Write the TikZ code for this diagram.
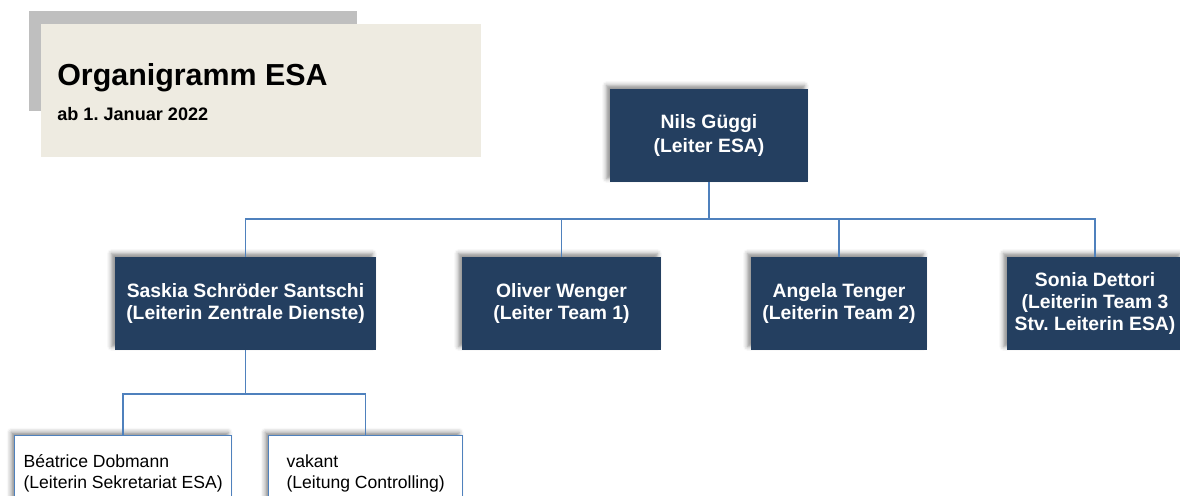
\documentclass[tikz,border=0pt]{standalone}
\usepackage{fontspec}
\setmainfont{Liberation Sans}
\usepackage{tikz}
\usetikzlibrary{shadows.blur}
\frenchspacing

\definecolor{navy}{HTML}{243F60}
\definecolor{lineblue}{HTML}{4F81BD}
\definecolor{titlebg}{HTML}{EEEBE1}
\definecolor{titlegray}{HTML}{BFBFBF}

\tikzset{
    headbox/.style={rectangle, fill=navy, text=white, align=center,
        minimum height=1.86cm, inner sep=2pt,
        font=\bfseries\fontsize{11}{12.5}\selectfont,
        blur shadow={shadow xshift=-2pt, shadow yshift=2pt, shadow blur radius=2.5pt, shadow opacity=45}},
    staffbox/.style={rectangle, fill=white, draw=lineblue, line width=0.8pt, align=left,
        minimum height=1.5cm, anchor=north west, inner sep=2pt,
        font=\fontsize{10}{12}\selectfont,
        blur shadow={shadow xshift=-2pt, shadow yshift=2pt, shadow blur radius=2.5pt, shadow opacity=45}},
    conn/.style={draw=lineblue, line width=0.85pt}
}

\begin{document}
\begin{tikzpicture}[x=0.02cm, y=-0.02cm]

    \useasboundingbox (0,0) rectangle (1180,495);

    % title block
    \fill[titlegray] (29,11) rectangle (357,111);
    \fill[titlebg] (41,24) rectangle (481,157);
    \node[anchor=base west, inner sep=0pt, font=\bfseries\fontsize{17.3}{20}\selectfont] (Title) at (57,85) {Organigramm ESA};
    \node[anchor=base west, inner sep=0pt, font=\bfseries\fontsize{10.3}{12}\selectfont] (Date) at (57,120) {ab 1. Januar 2022};

    % leitung
    \node[headbox, minimum width=3.96cm, font=\bfseries\fontsize{11}{14}\selectfont] (Nils) at (709,135.5) {Nils Güggi\\(Leiter ESA)};

    % teams
    \node[headbox, minimum width=5.22cm] (Saskia) at (245.5,303.5) {Saskia Schröder Santschi\\(Leiterin Zentrale Dienste)};
    \node[headbox, minimum width=3.98cm] (Oliver) at (561.5,303.5) {Oliver Wenger\\(Leiter Team 1)};
    \node[headbox, minimum width=3.52cm] (Angela) at (839,303.5) {Angela Tenger\\(Leiterin Team 2)};
    \node[headbox, minimum width=3.52cm] (Sonia) at (1095,303.5) {Sonia Dettori\\(Leiterin Team 3\\Stv. Leiterin ESA)};

    % zentrale dienste
    \node[staffbox, minimum width=4.34cm] (Beatrice) at (14,435) {Béatrice Dobmann\\(Leiterin Sekretariat ESA)};
    \node[staffbox, minimum width=3.88cm] (Vakant) at (268,435) {vakant\\(Leitung Controlling)};

    \coordinate (bus1) at (709,219);
    \coordinate (bus2) at (245.5,394);
    \draw[conn] (Nils.south) -- (bus1);
    \draw[conn] (Saskia.north) |- (bus1) -| (Sonia.north);
    \draw[conn] (bus1 -| Oliver.north) -- (Oliver.north);
    \draw[conn] (bus1 -| Angela.north) -- (Angela.north);
    \draw[conn] (Saskia.south) -- (bus2);
    \draw[conn] (Beatrice.north) |- (bus2) -| (Vakant.north);

\end{tikzpicture}
\end{document}
